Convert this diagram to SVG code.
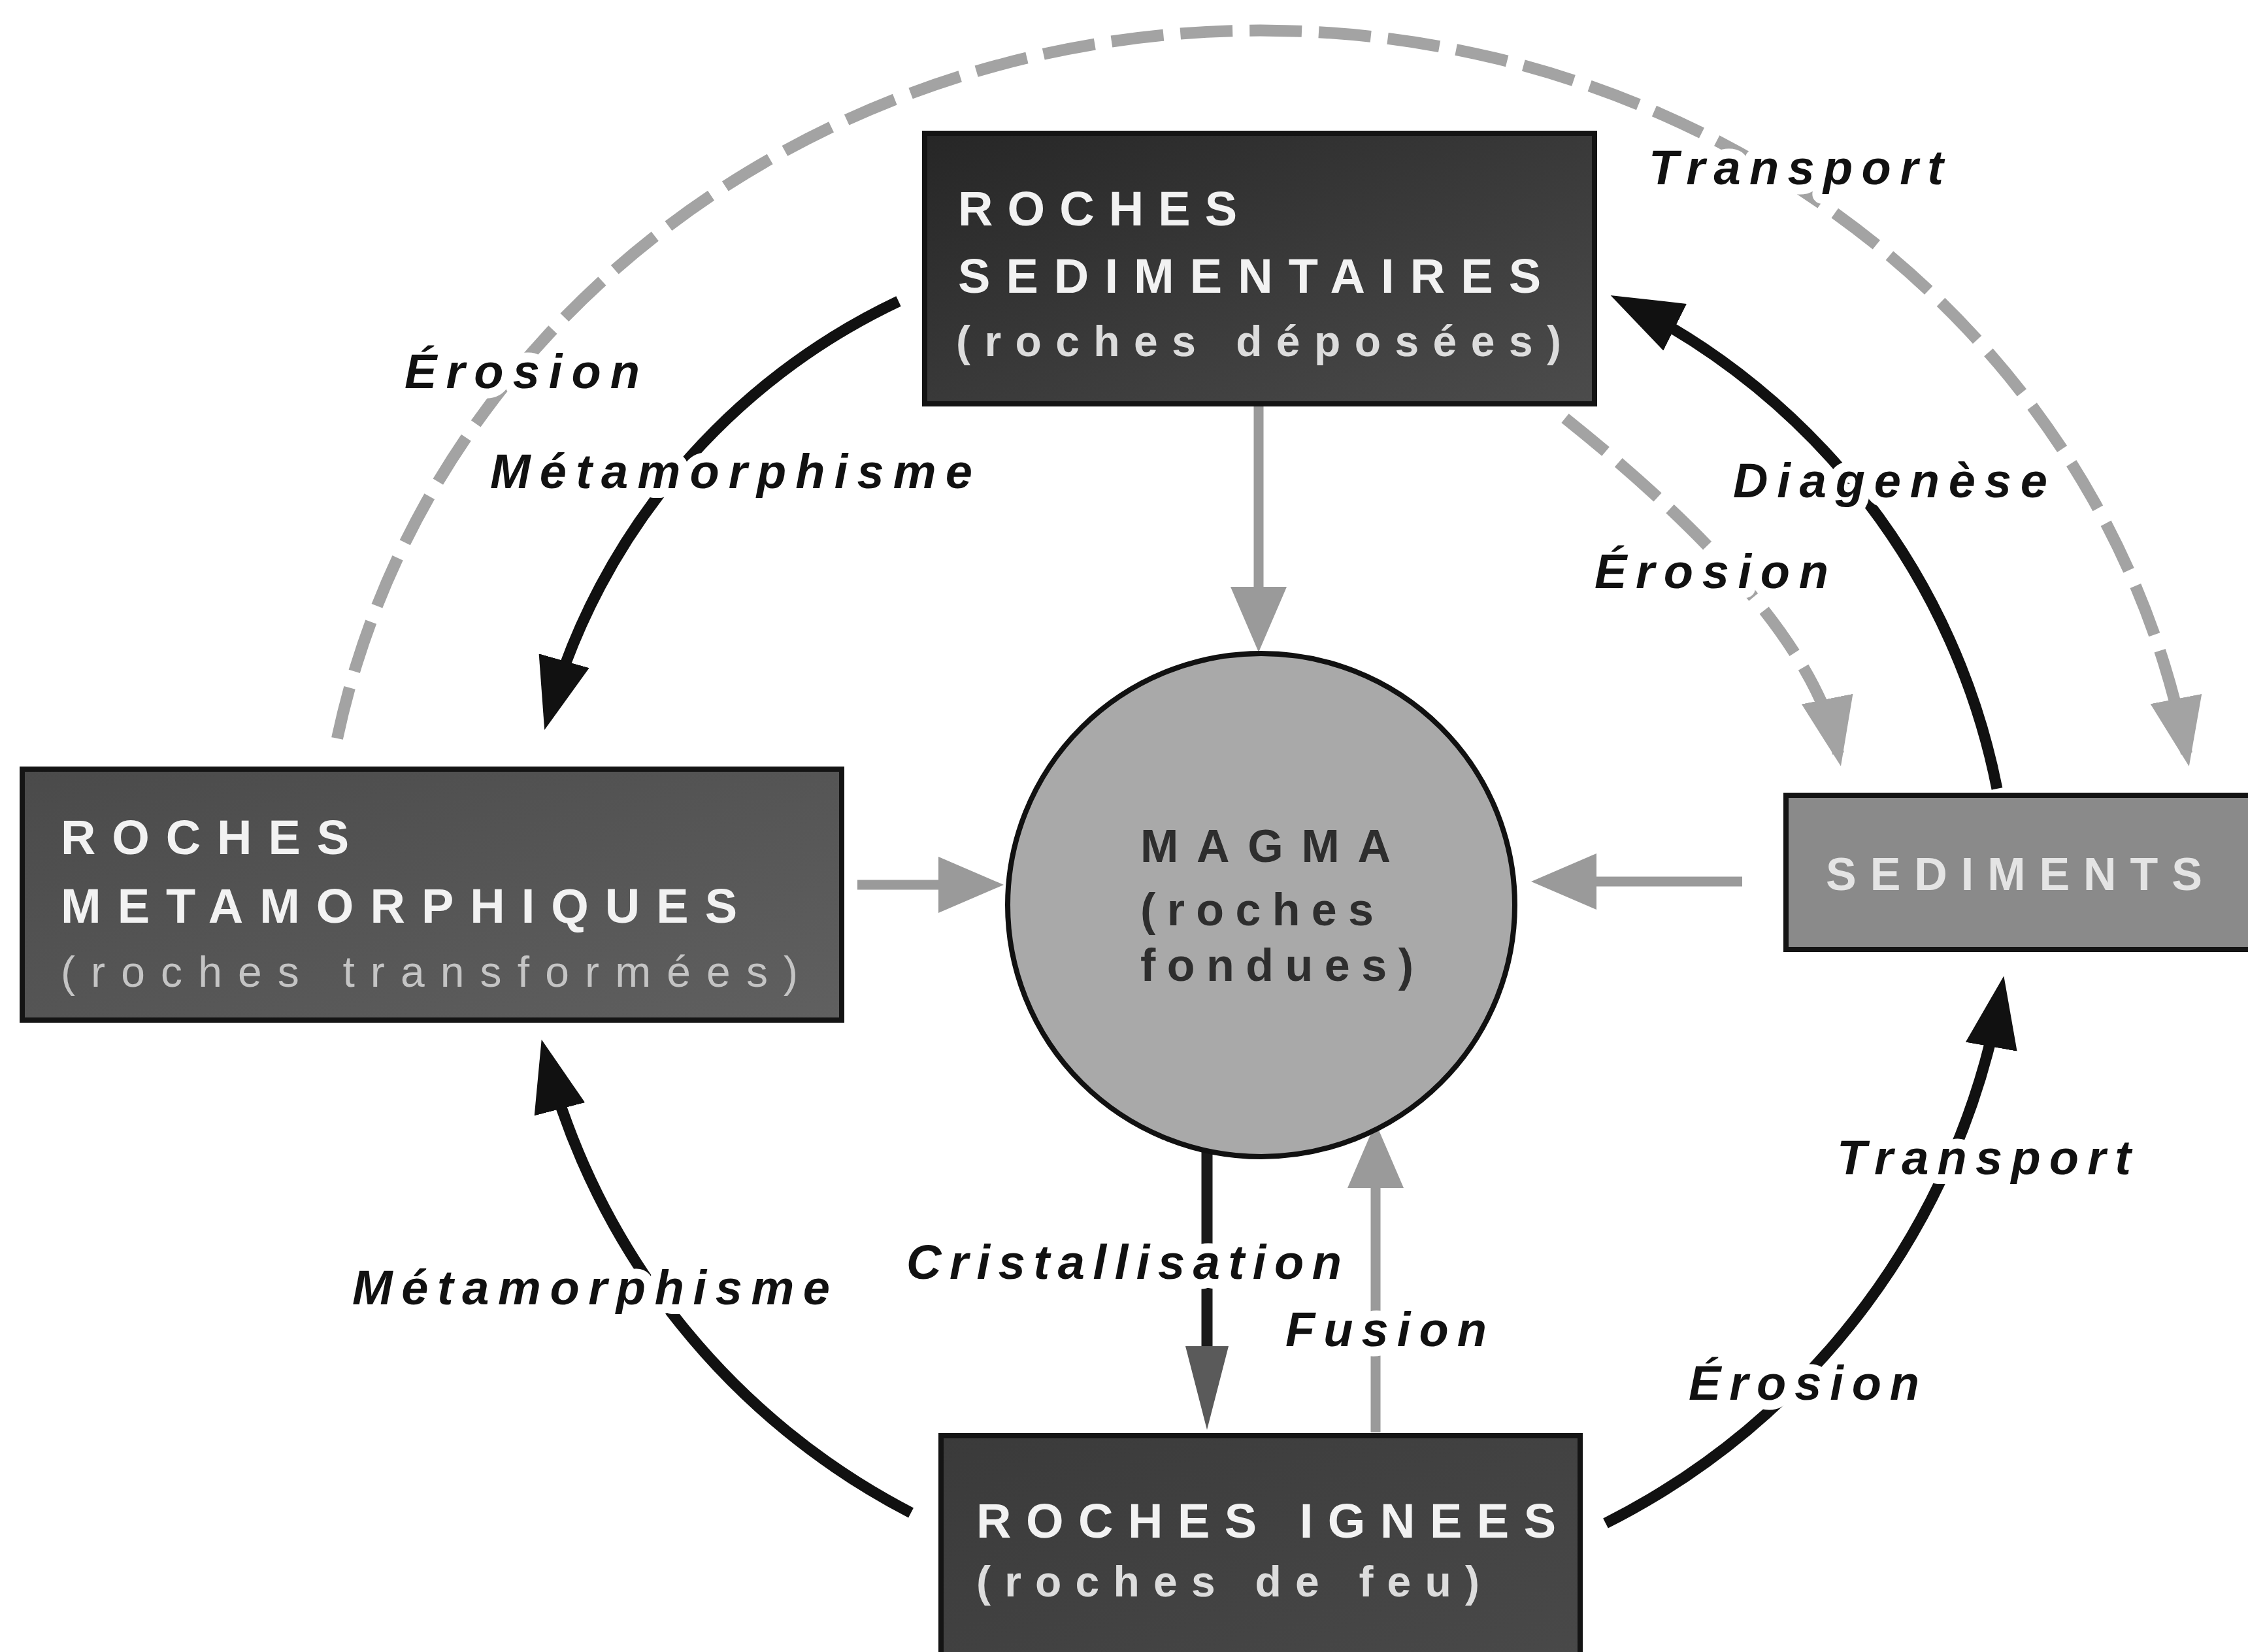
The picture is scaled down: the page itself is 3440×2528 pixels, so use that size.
<svg xmlns="http://www.w3.org/2000/svg" width="3440" height="2528" viewBox="0 0 3440 2528">
<defs>
<style>
.box{stroke:#141414;stroke-width:8}
.title{font-family:"Liberation Sans",Arial,sans-serif;font-weight:bold;font-size:74px;fill:#f2f2f2}
.sub{font-family:"Liberation Sans",Arial,sans-serif;font-size:66px;fill:#dcdcdc}
.subb{font-weight:bold}
.mag{font-family:"Liberation Sans",Arial,sans-serif;font-weight:bold;font-size:70px;fill:#2e2e2e}
.lbl{font-family:"Liberation Sans",Arial,sans-serif;font-weight:bold;font-style:italic;font-size:74px;fill:#111;stroke:#fff;stroke-width:30;stroke-linejoin:round;paint-order:stroke}
.blk{fill:none;stroke:#111;stroke-width:17;marker-end:url(#hb)}
.gry{fill:none;stroke:#9a9a9a;stroke-width:15;marker-end:url(#hg)}
.dash{fill:none;stroke:#a3a3a3;stroke-width:18;stroke-dasharray:80 26;marker-end:url(#hd)}
.cri{fill:none;stroke:#1a1a1a;stroke-width:17;marker-end:url(#hc)}
</style>
<linearGradient id="gTop" x1="0" y1="0" x2="1" y2="1">
<stop offset="0" stop-color="#262626"/><stop offset="1" stop-color="#4c4c4c"/>
</linearGradient>
<linearGradient id="gLeft" x1="0" y1="0" x2="1" y2="1">
<stop offset="0" stop-color="#4a4a4a"/><stop offset="1" stop-color="#606060"/>
</linearGradient>
<linearGradient id="gBot" x1="0" y1="0" x2="1" y2="1">
<stop offset="0" stop-color="#3a3a3a"/><stop offset="1" stop-color="#4a4a4a"/>
</linearGradient>
<marker id="hb" markerUnits="userSpaceOnUse" markerWidth="110" markerHeight="80" refX="85" refY="40" orient="auto"><path d="M0,0 L110,40 L0,80 z" fill="#111"/></marker>
<marker id="hg" markerUnits="userSpaceOnUse" markerWidth="100" markerHeight="86" refX="80" refY="43" orient="auto"><path d="M0,0 L100,43 L0,86 z" fill="#9a9a9a"/></marker>
<marker id="hd" markerUnits="userSpaceOnUse" markerWidth="105" markerHeight="80" refX="85" refY="40" orient="auto"><path d="M0,0 L105,40 L0,80 z" fill="#a3a3a3"/></marker>
<marker id="hc" markerUnits="userSpaceOnUse" markerWidth="128" markerHeight="66" refX="90" refY="33" orient="auto"><path d="M0,0 L128,33 L0,66 z" fill="#5a5a5a"/></marker>
</defs>
<rect width="3440" height="2528" fill="#fff"/>

<g id="connectors">
<path class="dash" d="M516,1130 A1440,1344 0 0 1 3346,1153"/>
<path class="dash" d="M2395,640 Q2770,940 2813,1153"/>
<path class="blk" d="M1375,461 A1000,1000 0 0 0 840,1093"/>
<path class="blk" d="M1394,2315 A1100,1100 0 0 1 835,1615"/>
<path class="blk" d="M2457,2331 A1130,1130 0 0 0 3062,1518"/>
<path class="blk" d="M3056,1207 A1060,1060 0 0 0 2487,463"/>
<path class="gry" d="M1926,621 L1926,978"/>
<path class="gry" d="M1312,1354 L1516,1354"/>
<path class="gry" d="M2666,1349 L2363,1349"/>
<path class="gry" d="M2105,2192 L2105,1738"/>
<path class="cri" d="M1847,1758 L1847,2150"/>
</g>

<g id="node-roches-sedimentaires">
<rect class="box" x="1415" y="204" width="1025" height="414" fill="url(#gTop)"/>
<text class="title" x="1466" y="345" textLength="427" lengthAdjust="spacing">ROCHES</text>
<text class="title" x="1466" y="448" textLength="892" lengthAdjust="spacing">SEDIMENTAIRES</text>
<text class="sub subb" x="1463" y="545" textLength="926" lengthAdjust="spacing">(roches déposées)</text>
</g>

<g id="node-roches-metamorphiques">
<rect class="box" x="34" y="1177" width="1254" height="384" fill="url(#gLeft)"/>
<text class="title" x="93" y="1307" textLength="441" lengthAdjust="spacing">ROCHES</text>
<text class="title" x="93" y="1412" textLength="1035" lengthAdjust="spacing">METAMORPHIQUES</text>
<text class="sub" x="93" y="1510" textLength="1128" lengthAdjust="spacing" style="fill:#c4c4c4">(roches transformées)</text>
</g>

<g id="node-magma">
<ellipse cx="1930" cy="1385" rx="388" ry="385" fill="#a9a9a9" stroke="#111" stroke-width="8"/>
<text class="mag" x="1745" y="1319" textLength="383" lengthAdjust="spacing">MAGMA</text>
<text class="mag" x="1745" y="1416" textLength="357" lengthAdjust="spacing">(roches</text>
<text class="mag" x="1745" y="1501" textLength="418" lengthAdjust="spacing">fondues)</text>
</g>

<g id="node-sediments">
<rect class="box" x="2733" y="1217" width="760" height="236" fill="#8a8a8a"/>
<text class="title" x="2794" y="1362" textLength="576" lengthAdjust="spacing" style="fill:#e4e4e4;font-size:70px">SEDIMENTS</text>
</g>

<g id="node-roches-ignees">
<rect class="box" x="1440" y="2197" width="978" height="400" fill="url(#gBot)"/>
<text class="title" x="1494" y="2353" textLength="887" lengthAdjust="spacing">ROCHES IGNEES</text>
<text class="sub subb" x="1494" y="2443" textLength="770" lengthAdjust="spacing">(roches de feu)</text>
</g>

<g id="labels">
<text class="lbl" x="2523" y="282" textLength="451" lengthAdjust="spacing">Transport</text>
<text class="lbl" x="619" y="594" textLength="360" lengthAdjust="spacing">Érosion</text>
<text class="lbl" x="750" y="747" textLength="738" lengthAdjust="spacing">Métamorphisme</text>
<text class="lbl" x="2652" y="761" textLength="481" lengthAdjust="spacing">Diagenèse</text>
<text class="lbl" x="2440" y="900" textLength="358" lengthAdjust="spacing">Érosion</text>
<text class="lbl" x="2811" y="1797" textLength="450" lengthAdjust="spacing">Transport</text>
<text class="lbl" x="2584" y="2142" textLength="353" lengthAdjust="spacing">Érosion</text>
<text class="lbl" x="539" y="1996" textLength="731" lengthAdjust="spacing">Métamorphisme</text>
<text class="lbl" x="1387" y="1957" textLength="666" lengthAdjust="spacing">Cristallisation</text>
<text class="lbl" x="1967" y="2060" textLength="308" lengthAdjust="spacing">Fusion</text>
</g>
</svg>
